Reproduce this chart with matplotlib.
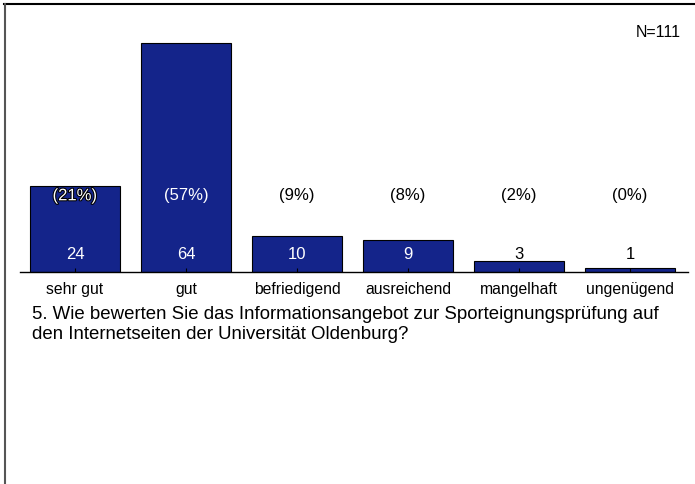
import matplotlib.pyplot as plt
import matplotlib.patheffects as pe
from matplotlib.lines import Line2D

# Daten aus der Abbildung
categories = ["sehr gut", "gut", "befriedigend", "ausreichend", "mangelhaft", "ungenügend"]
counts = [24, 64, 10, 9, 3, 1]
percents = ["(21%)", "(57%)", "(9%)", "(8%)", "(2%)", "(0%)"]
n_total = 111
question = ("5. Wie bewerten Sie das Informationsangebot zur Sporteignungsprüfung auf\n"
            "den Internetseiten der Universität Oldenburg?")

plt.rcParams['font.family'] = ['Liberation Sans', 'DejaVu Sans']

fig = plt.figure(figsize=(6.95, 4.84), dpi=100)
ax = fig.add_axes([20 / 695, 1 - 272 / 484, 668 / 695, 250.5 / 484])

x = range(len(categories))
ax.bar(x, counts, width=0.81, color="#14248a", edgecolor="black", linewidth=0.8)

ax.set_xlim(-0.495, 5.523)
ax.set_ylim(0, 70)

for i, (c, p) in enumerate(zip(counts, percents)):
    # Prozentangaben
    p_col = "white" if c > 21.5 else "black"
    t = ax.text(i, 21.3, p, ha="center", va="center", fontsize=12, color=p_col)
    if i == 0:
        t.set_path_effects([pe.withStroke(linewidth=1.5, foreground="black")])
    # Anzahl
    c_col = "white" if c > 6 else "black"
    ax.text(i, 5.0, str(c), ha="center", va="center", fontsize=12, color=c_col)

ax.set_xticks(list(x))
ax.set_xticklabels(categories, fontsize=11.3)
ax.tick_params(axis="x", direction="in", length=3, width=0.8, pad=15.5)
for lbl in ax.get_xticklabels():
    lbl.set_verticalalignment("baseline")
ax.set_yticks([])
for s in ["top", "right", "left"]:
    ax.spines[s].set_visible(False)
ax.spines["bottom"].set_linewidth(1.0)

fig.text(658 / 695, 1 - 32.5 / 484, f"N={n_total}", ha="center", va="center", fontsize=11.5)
fig.text(32 / 695, 1 - 306 / 484, question, ha="left", va="top", fontsize=13.4,
         linespacing=1.2)

# Rahmen oben und links
fig.add_artist(Line2D([4 / 695, 1], [1 - 3.5 / 484, 1 - 3.5 / 484], color="black", linewidth=1.5))
fig.add_artist(Line2D([5 / 695, 5 / 695], [0, 1 - 3.5 / 484], color="#555555", linewidth=1.5))

fig.savefig("out.png", dpi=100)
